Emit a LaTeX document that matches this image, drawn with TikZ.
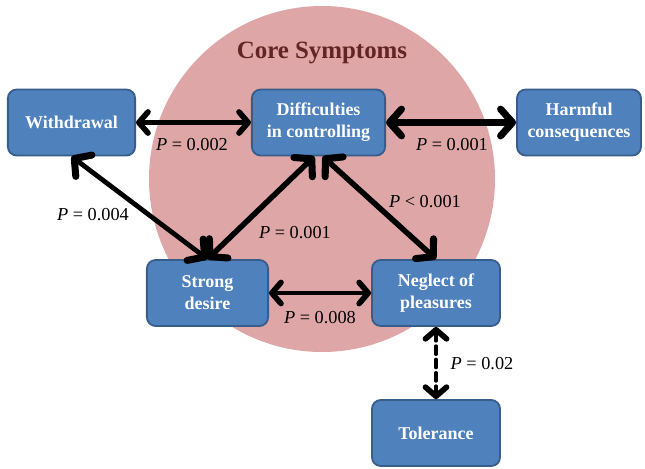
\documentclass[tikz,border=0pt]{standalone}
\usepackage{fontspec}
\setmainfont{Liberation Serif}
\usetikzlibrary{arrows.meta}
\definecolor{BoxBlue}{RGB}{79,129,189}
\definecolor{BoxEdge}{RGB}{56,93,138}
\definecolor{CorePink}{RGB}{222,166,166}
\definecolor{CoreRed}{RGB}{99,37,35}

\begin{document}
\begin{tikzpicture}[x=0.025cm,y=-0.025cm,
    symptom/.style={draw=BoxEdge, line width=1.3pt, fill=BoxBlue, rounded corners=0.22cm,
      minimum height=1.65cm, align=center, text=white,
      font=\fontsize{12.8}{15.6}\selectfont\bfseries},
    pval/.style={font=\fontsize{13}{15}\selectfont},
    link/.style={{Straight Barb[round,length=6.5pt,width=15pt,line width=4pt]}-{Straight Barb[round,length=6.5pt,width=15pt,line width=4pt]},
      line width=3pt, line cap=round, line join=round},
    heavy link/.style={{Straight Barb[round,length=8.5pt,width=19pt,line width=5pt]}-{Straight Barb[round,length=8.5pt,width=19pt,line width=5pt]},
      line width=3.9pt, line cap=round, line join=round}]
  \useasboundingbox (0,0) rectangle (645,468);
  % core circle and its title
  \fill[CorePink] (322,179) circle (173);
  \node[font=\fontsize{17.7}{20}\selectfont\bfseries, text=CoreRed] (core) at (322,53) {Core Symptoms};
  % symptom boxes
  \node[symptom, minimum width=3.18cm] (withdrawal) at (71.5,122.5) {Withdrawal};
  \node[symptom, minimum width=3.33cm] (control) at (318.5,122.5) {Difficulties\\in controlling};
  \node[symptom, minimum width=3.1cm] (harmful) at (579,122.5) {Harmful\\consequences};
  \node[symptom, minimum width=3.03cm] (desire) at (207.5,293) {Strong\\desire};
  \node[symptom, minimum width=3.2cm] (neglect) at (436,293) {Neglect of\\pleasures};
  \node[symptom, minimum width=3.2cm] (tolerance) at (436,433) {Tolerance};
  % associations
  \draw[link] (withdrawal.east) -- (control.west);
  \draw[heavy link, line width=4.5pt] (control.east) -- (harmful.west);
  \draw[heavy link, line width=3.4pt] (withdrawal.south) -- (desire.north);
  \draw[heavy link] ([xshift=-3pt]control.south) -- (desire.north);
  \draw[heavy link] ([xshift=3pt]control.south) -- (neglect.north);
  \draw[link] (desire.east) -- (neglect.west);
  \draw[link, line width=2.3pt, dash pattern=on 6pt off 3.5pt] (neglect.south) -- (tolerance.north);
  % p values
  \node[pval] (pwc) at (192,145) {\textit{P} = 0.002};
  \node[pval] (pch) at (452,145) {\textit{P} = 0.001};
  \node[pval] (pwd) at (93,215) {\textit{P} = 0.004};
  \node[pval] (pcd) at (295,233) {\textit{P} = 0.001};
  \node[pval] (pcn) at (425,202) {\textit{P} < 0.001};
  \node[pval] (pdn) at (320,318) {\textit{P} = 0.008};
  \node[pval] (pnt) at (482,364) {\textit{P} = 0.02};
\end{tikzpicture}
\end{document}
